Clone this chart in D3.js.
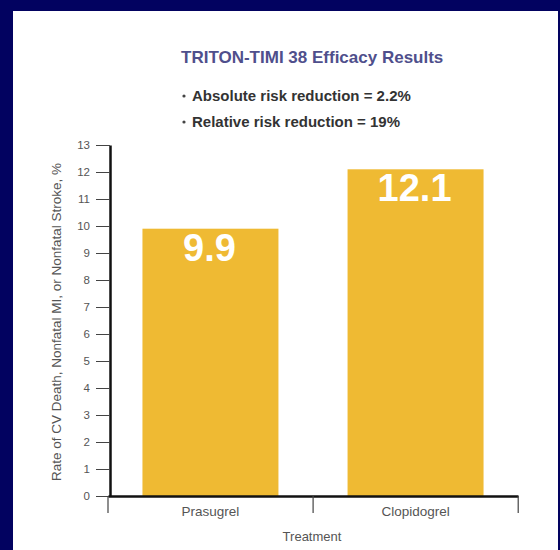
<!DOCTYPE html>
<html>
<head>
<meta charset="utf-8">
<script src="https://cdn.jsdelivr.net/npm/d3@7"></script>
<style>
  html, body { margin: 0; padding: 0; background: #020260; }
  svg { display: block; }
  text { font-family: "Liberation Sans", Arial, sans-serif; }
</style>
</head>
<body>
<script>
// Event rates (%) by treatment arm
const treatments = ["Prasugrel", "Clopidogrel"];
const eventRates = [9.9, 12.1];
const yTicks = [0, 1, 2, 3, 4, 5, 6, 7, 8, 9, 10, 11, 12, 13];
const titleText = "TRITON-TIMI 38 Efficacy Results";
const bulletLines = ["Absolute risk reduction = 2.2%", "Relative risk reduction = 19%"];
const yTitle = "Rate of CV Death, Nonfatal MI, or Nonfatal Stroke, %";
const xTitle = "Treatment";

const W = 560, H = 550;
const svg = d3.select("body").append("svg").attr("width", W).attr("height", H);

// navy slide frame with white panel
svg.append("rect").attr("width", W).attr("height", H).attr("fill", "#020260");
svg.append("rect").attr("x", 13).attr("y", 11).attr("width", 545).attr("height", H - 11).attr("fill", "#ffffff");

// header
svg.append("text").attr("x", 181).attr("y", 63)
  .attr("font-size", 17).attr("font-weight", "bold").attr("fill", "#4f4f8c")
  .text(titleText);

const bullets = svg.append("g");
bulletLines.forEach((line, i) => {
  const by = 101 + i * 26;
  bullets.append("circle").attr("cx", 184).attr("cy", by - 5).attr("r", 1.6).attr("fill", "#444");
  bullets.append("text").attr("x", 192).attr("y", by)
    .attr("font-size", 15).attr("font-weight", "bold").attr("fill", "#333")
    .text(line);
});

// scales
const y = d3.scaleLinear().domain([0, 13]).range([496, 145]);
const x = d3.scaleBand().domain(treatments).range([108, 518])
  .paddingInner(0.337).paddingOuter(0.168);

// bars
svg.append("g").selectAll("rect").data(treatments).join("rect")
  .attr("x", d => x(d))
  .attr("width", x.bandwidth())
  .attr("y", (d, i) => y(eventRates[i]))
  .attr("height", (d, i) => y(0) - y(eventRates[i]))
  .attr("fill", "#efba33");

// value labels inside bars
svg.append("g").selectAll("text").data(treatments).join("text")
  .attr("x", d => x(d) + x.bandwidth() / 2 - 1)
  .attr("y", (d, i) => y(eventRates[i]) + 32)
  .attr("text-anchor", "middle")
  .attr("font-size", 38).attr("font-weight", "bold").attr("fill", "#ffffff")
  .text((d, i) => eventRates[i].toFixed(1));

// y axis
const yAxis = svg.append("g").attr("transform", "translate(110,0)")
  .call(d3.axisLeft(y).tickValues(yTicks).tickSize(14).tickPadding(6).tickSizeOuter(0));
yAxis.select(".domain").attr("stroke", "#111").attr("stroke-width", 2.5);
yAxis.selectAll(".tick line").attr("stroke", "#444").attr("stroke-width", 1);
yAxis.selectAll(".tick text").attr("font-size", 11.5).attr("fill", "#555")
  .attr("font-family", "'Liberation Sans', Arial, sans-serif");

// x axis: baseline, category labels and category boundary ticks
const xAxis = svg.append("g").attr("transform", `translate(0,${y(0)})`)
  .call(d3.axisBottom(x).tickSize(0).tickPadding(10).tickSizeOuter(0));
xAxis.select(".domain").attr("stroke", "#111").attr("stroke-width", 2.5);
xAxis.selectAll(".tick text").attr("font-size", 13.5).attr("fill", "#555")
  .attr("font-family", "'Liberation Sans', Arial, sans-serif");

const bounds = d3.range(treatments.length + 1).map(i => x.range()[0] + i * x.step());
xAxis.append("g").selectAll("line").data(bounds).join("line")
  .attr("x1", d => d).attr("x2", d => d)
  .attr("y1", 0).attr("y2", 17)
  .attr("stroke", "#444").attr("stroke-width", 1.2);

// axis titles
svg.append("text").attr("transform", "translate(61,322) rotate(-90)")
  .attr("text-anchor", "middle").attr("font-size", 13.5).attr("fill", "#555")
  .text(yTitle);
svg.append("text").attr("x", 312).attr("y", 541)
  .attr("text-anchor", "middle").attr("font-size", 13).attr("fill", "#555")
  .text(xTitle);
</script>
</body>
</html>
